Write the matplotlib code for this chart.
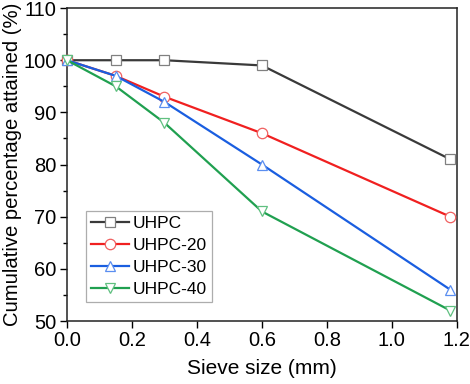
import matplotlib
matplotlib.use("Agg")
import matplotlib.pyplot as plt
from matplotlib.ticker import MultipleLocator

plt.rcParams['font.family'] = ['Liberation Sans', 'DejaVu Sans']

sieve = [0, 0.15, 0.3, 0.6, 1.18]
uhpc = [100, 100, 100, 99, 81]
uhpc20 = [100, 97, 93, 86, 70]
uhpc30 = [100, 97, 92, 80, 56]
uhpc40 = [100, 95, 88, 71, 52]
labels = ['UHPC', 'UHPC-20', 'UHPC-30', 'UHPC-40']

fig = plt.figure(figsize=(4.7, 3.84), dpi=100)
ax = fig.add_axes([0.1426, 0.164, 0.8294, 0.815])

styles = [
    dict(color='#3a3a3a', marker='s', mec='#808080'),
    dict(color='#f02020', marker='o', mec='#f06060'),
    dict(color='#1a5ee0', marker='^', mec='#5a8ef0'),
    dict(color='#20a050', marker='v', mec='#60c080'),
]
for ys, lab, st in zip([uhpc, uhpc20, uhpc30, uhpc40], labels, styles):
    ax.plot(sieve, ys, color=st['color'], lw=1.6, marker=st['marker'],
            ms=7.5, mfc='white', mec=st['mec'], mew=0.9, label=lab, clip_on=False, zorder=3)

ax.set_xlim(0, 1.2)
ax.set_ylim(50, 110)
ax.xaxis.set_major_locator(MultipleLocator(0.2))
ax.yaxis.set_major_locator(MultipleLocator(10))
ax.yaxis.set_minor_locator(MultipleLocator(5))
ax.tick_params(axis='both', which='major', direction='out', length=5, width=1, labelsize=14.5,
               top=False, right=False, pad=2.5)
ax.tick_params(axis='y', which='minor', direction='out', length=3, width=1, right=False)
for s in ax.spines.values():
    s.set_linewidth(1.1)
    s.set_color('#222222')
ax.set_xlabel('Sieve size (mm)', fontsize=15, labelpad=6)
ax.set_ylabel('Cumulative percentage attained (%)', fontsize=14.6, labelpad=1)

leg = ax.legend(loc='lower left', bbox_to_anchor=(0.049, 0.061), fontsize=12.5, frameon=True,
                fancybox=False, edgecolor='#999999', handlelength=2.2, handletextpad=0.2,
                borderpad=0.29, labelspacing=0.39, borderaxespad=0)
leg.get_frame().set_linewidth(0.9)

fig.savefig('out.png', dpi=100)
